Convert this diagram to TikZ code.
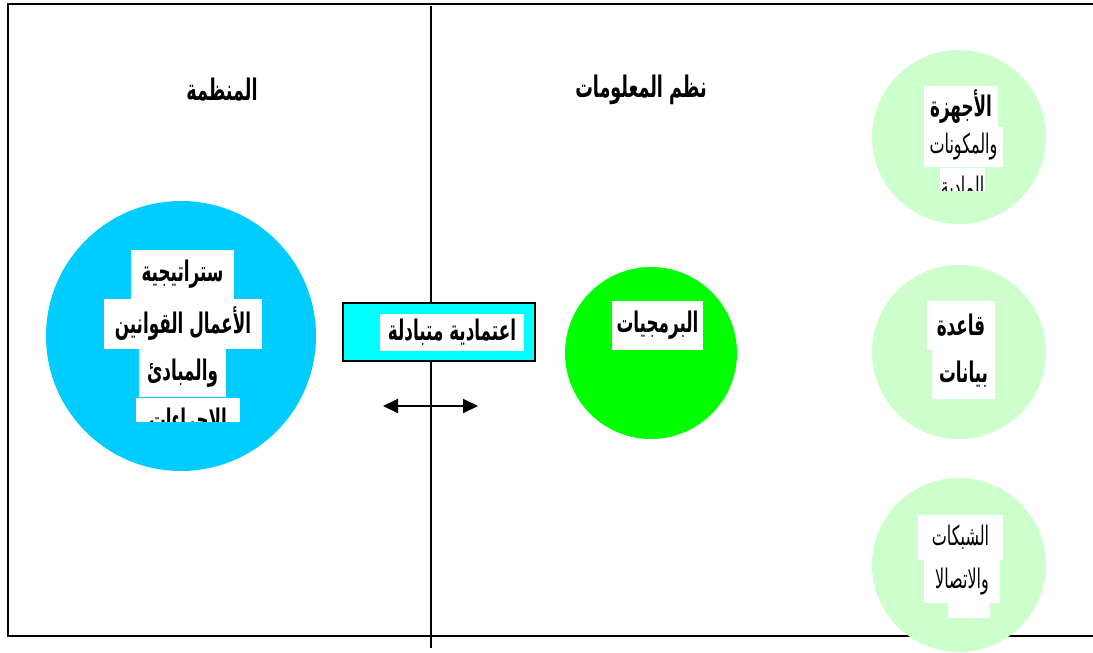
\documentclass[tikz,border=0pt]{standalone}
\usepackage{fontspec}
\usepackage{graphicx}
\usetikzlibrary{arrows.meta,backgrounds}
\TeXXeTstate=1
\newfontfamily\arabicfont[Script=Arabic, FakeStretch=0.8]{DejaVu Sans}
\newcommand{\artext}[1]{\scalebox{1}[1.35]{\beginR #1\endR}}
\definecolor{orgblue}{HTML}{00CCFF}
\definecolor{swgreen}{HTML}{00FF00}
\definecolor{palegreen}{HTML}{CCFFCC}
\definecolor{depcyan}{HTML}{00FFFF}

\tikzset{
  frameline/.style={line width=1.5pt, draw=black},
  link/.style={line width=1.3pt, draw=black},
  disc/.style={circle, inner sep=0pt, draw=none},
  orgdisc/.style={disc, fill=orgblue, minimum size=270pt},
  swdisc/.style={disc, fill=swgreen, minimum size=172pt},
  partdisc/.style={disc, fill=palegreen, minimum size=174pt},
  txt/.style={fill=white, inner sep=0pt, text=black,
    font=\arabicfont\bfseries\fontsize{21}{24}\selectfont},
  txtlight/.style={txt, font=\arabicfont\fontsize{20}{24}\selectfont},
  title/.style={inner sep=0pt, font=\arabicfont\bfseries\fontsize{22}{26}\selectfont},
  depbox/.style={draw=black, line width=1.2pt, fill=depcyan,
    minimum width=192pt, minimum height=58pt, inner sep=0pt},
  twoway/.style={line width=2pt, {Triangle[length=15pt,width=14pt]}-{Triangle[length=15pt,width=14pt]}},
}

\begin{document}
\begin{tikzpicture}[x=1pt,y=-1pt]
\useasboundingbox (0,0) rectangle (1093,653);
\fill[white] (0,0) rectangle (1093,653);

% outer frame (open on the right) and the divider
\coordinate (ftr) at (1093,4);
\coordinate (ftl) at (8,4);
\coordinate (fbl) at (8,636);
\coordinate (fbr) at (1093,636);
\draw[frameline] (ftr) -- (ftl) -- (fbl) -- (fbr);
\coordinate (dtop) at (431,6);
\coordinate (dbot) at (431,648);
\draw[frameline] (dtop) -- (dbot);

% headings
\node[title] (hOrg) at (222,90) {\artext{المنظمة}};
\node[title] (hIS) at (641,90) {\artext{نظم المعلومات}};

% organisation disc
\node[orgdisc] (org) at (181,336) {};
\node[txt, minimum width=103pt, minimum height=49pt] (o1) at (182.5,274.5) {\artext{ستراتيجية}};
\node[txt, minimum width=158pt, minimum height=50pt] (o2) at (183,324) {\artext{الأعمال القوانين}};
\node[txt, minimum width=87pt, minimum height=48pt] (o3) at (182.5,373) {\artext{والمبادئ}};
\begin{scope}
  \clip (136,397) rectangle (240,421);
  \node[txt, minimum width=104pt, minimum height=48pt] (o4) at (188,422) {\artext{الإجراءات}};
\end{scope}

% mutual dependence label and arrow
\node[depbox] (dep) at (439,332) {};
\node[txt, minimum width=144pt, minimum height=37pt] (depText) at (452,332.5) {\artext{اعتمادية متبادلة}};
\coordinate (arL) at (383,406);
\coordinate (arR) at (478,406);
\draw[twoway] (arL) -- (arR);

% software disc
\node[swdisc] (sw) at (651,353) {};
\node[txt, minimum width=91pt, minimum height=49pt] (swText) at (657.5,325.5) {\artext{البرمجيات}};

% component discs
\node[partdisc] (hw) at (959,137) {};
\node[txt, minimum width=74pt, minimum height=41pt] (hw1) at (961,106.5) {\artext{الأجهزة}};
\node[txtlight, minimum width=79pt, minimum height=40pt] (hw2) at (963.5,147) {\artext{والمكونات}};
\begin{scope}
  \clip (940,167) rectangle (985,190);
  \node[txtlight, minimum width=45pt, minimum height=40pt] (hw3) at (962.5,188) {\artext{المادية}};
\end{scope}

\node[partdisc] (db) at (959,352) {};
\node[txt, minimum width=68pt, minimum height=49pt] (db1) at (961,325.5) {\artext{قاعدة}};
\node[txt, minimum width=63pt, minimum height=49pt] (db2) at (963.5,374.5) {\artext{بيانات}};

\node[partdisc] (net) at (959,565) {};
\node[txtlight, minimum width=85pt, minimum height=45pt] (net1) at (960.5,537.5) {\artext{الشبكات}};
\node[txtlight, minimum width=76pt, minimum height=43pt] (net2) at (962,581.5) {\artext{والاتصالا}};
\node[fill=white, inner sep=0pt, minimum width=42pt, minimum height=15pt] (net3) at (969,610.5) {};

% connectors behind the discs
\begin{pgfonlayer}{background}
  \coordinate (busTop) at (816,155);
  \coordinate (busBot) at (816,520);
  \coordinate (busNet) at (816,566);
  \draw[link] (busTop) -- (busBot);
  \draw[link] (busTop) -- (busTop -| hw);
  \draw[link] (sw) -- (sw -| db);
  \draw[link] (busNet) -- (busNet -| net);
\end{pgfonlayer}
\end{tikzpicture}
\end{document}
